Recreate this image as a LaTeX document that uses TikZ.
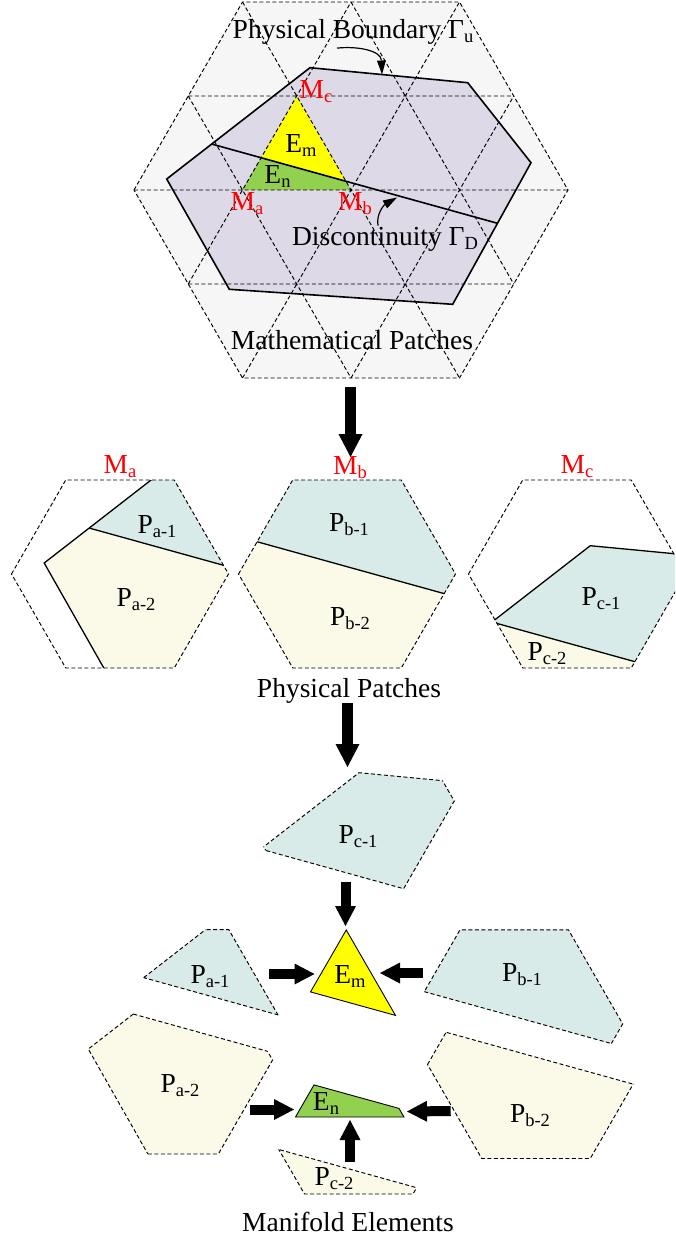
\documentclass[tikz,border=0pt]{standalone}
\usepackage{fontspec}
\setmainfont{Liberation Serif}
\usetikzlibrary{arrows.meta}
\definecolor{hexbg}{RGB}{246,246,246}
\definecolor{domaincol}{RGB}{222,217,230}
\definecolor{patchone}{RGB}{217,235,232}
\definecolor{patchtwo}{RGB}{251,250,232}
\definecolor{emcol}{RGB}{255,255,0}
\definecolor{encol}{RGB}{146,208,80}
\newcommand\lowsub[1]{\raisebox{-4pt}{\fontsize{18.5}{19}\selectfont #1}}
\newcommand\hexp[2]{(#1-108.5,#2) -- (#1-54.25,#2-94) -- (#1+54.25,#2-94) -- (#1+108.5,#2) -- (#1+54.25,#2+94) -- (#1-54.25,#2+94) -- cycle}
\newcommand\bighex{(134,190) -- (242.5,2) -- (459.5,2) -- (568,190) -- (459.5,378) -- (242.5,378) -- cycle}
\newcommand\regone{(211.7,144.05) -- (310,67.7) -- (467.7,82.7) -- (531,162.7) -- (497.5,223.3) -- cycle}
\newcommand\regtwo{(211.7,144.05) -- (497.5,223.3) -- (452.7,304.3) -- (229.3,289.3) -- (166.7,179) -- cycle}
\newcommand\bndpath{(310,67.7) -- (467.7,82.7) -- (531,162.7) -- (452.7,304.3) -- (229.3,289.3) -- (166.7,179) -- cycle}
\newcommand\discpath{(211.7,144.05) -- (497.5,223.3)}
\newcommand\empath{(296.75,96) -- (261,157.9) -- (346,181.4) -- cycle}
\newcommand\enpath{(261,157.9) -- (346,181.4) -- (351,190) -- (242.5,190) -- cycle}
\tikzset{
  dline/.style={dash pattern=on 4pt off 2.5pt, line width=0.95pt},
  bline/.style={line width=1.6pt, line join=miter},
  mline/.style={line width=1.3pt},
  lbl/.style={font=\fontsize{27.5}{30}\selectfont, inner sep=0pt, anchor=base},
  rlbl/.style={lbl, text=red},
  blk/.style={line width=10pt, -{Triangle[length=20pt,width=21pt,line width=0pt]}},
  bigblk/.style={line width=11pt, -{Triangle[length=23pt,width=24pt,line width=0pt]}},
  thinarr/.style={line width=1.2pt, -{Triangle[length=14pt,width=9pt,line width=0pt]}}
}
\newcommand\midpatch[3]{%
  \begin{scope}[shift={#1}]
    \begin{scope}
      \clip \hexp{#2}{#3};
      \fill[patchone] \regone;
      \fill[patchtwo] \regtwo;
      \draw[mline] \bndpath;
      \draw[mline] \discpath;
    \end{scope}
    \draw[dline] \hexp{#2}{#3};
  \end{scope}}
\newcommand\piece[5]{%
  \begin{scope}[shift={#1}]
    \begin{scope}
      \clip \hexp{#2}{#3};
      \fill[#5] #4;
      \draw[dline] #4;
    \end{scope}
    \begin{scope}
      \clip #4;
      \draw[dline] \hexp{#2}{#3};
    \end{scope}
  \end{scope}}
\begin{document}
\begin{tikzpicture}[x=1pt,y=-1pt]
\useasboundingbox (0,0) rectangle (675,1241);
\clip (0,0) rectangle (675,1241);
% ---------- mathematical patches ----------
\fill[hexbg] \bighex;
\fill[domaincol] \bndpath;
\fill[emcol] \empath;
\fill[encol] \enpath;
\draw[dline] \bighex;
\draw[dline] (188.25,96) -- (513.75,96) (134,190) -- (568,190) (188.25,284) -- (513.75,284)
  (188.25,284) -- (351,2) (242.5,378) -- (459.5,2) (351,378) -- (513.75,96)
  (188.25,96) -- (351,378) (242.5,2) -- (459.5,378) (351,2) -- (513.75,284);
\draw[bline] \bndpath;
\draw[bline] \discpath;
\node[lbl] (pbnd) at (353,39) {Physical Boundary Γ\lowsub{u}};
\node[lbl] (disc) at (385,246) {Discontinuity Γ\lowsub{D}};
\node[lbl] (mathp) at (352,349) {Mathematical Patches};
\node[rlbl] (mct) at (316,99) {M\lowsub{c}};
\node[rlbl] (mat) at (247,211) {M\lowsub{a}};
\node[rlbl] (mbt) at (355,211) {M\lowsub{b}};
\node[lbl] (emt) at (301,153) {E\lowsub{m}};
\node[lbl] (ent) at (277.5,184) {E\lowsub{n}};
\coordinate (bndtip) at (382,74.5);
\coordinate (disctip) at (397,197.5);
\draw[thinarr] ([xshift=-16pt,yshift=-3pt]pbnd.south) .. controls (356,46) and (381,50) .. (bndtip);
\draw[thinarr] ([xshift=-7pt,yshift=2pt]disc.north) .. controls (376,214) and (384,205) .. (disctip);
% ---------- physical patches ----------
\midpatch{(-122.5,384)}{242.5}{190}
\midpatch{(-4,384)}{351}{190}
\midpatch{(280.25,478)}{296.75}{96}
\node[rlbl] (mam) at (120,473) {M\lowsub{a}};
\node[rlbl] (mbm) at (350,474) {M\lowsub{b}};
\node[rlbl] (mcm) at (577,473) {M\lowsub{c}};
\node[lbl] (pa1m) at (157,533) {P\lowsub{a-1}};
\node[lbl] (pa2m) at (136,606.5) {P\lowsub{a-2}};
\node[lbl] (pb1m) at (349,531) {P\lowsub{b-1}};
\node[lbl] (pb2m) at (350,625) {P\lowsub{b-2}};
\node[lbl] (pc1m) at (601,605) {P\lowsub{c-1}};
\node[lbl] (pc2m) at (547,660) {P\lowsub{c-2}};
\node[lbl] (physp) at (349,697) {Physical Patches};
% ---------- manifold elements ----------
\piece{(-68,833.6)}{242.5}{190}{\regone}{patchone}
\piece{(-78.4,870)}{242.5}{190}{\regtwo}{patchtwo}
\piece{(163.2,833.9)}{351}{190}{\regone}{patchone}
\piece{(185,874.5)}{351}{190}{\regtwo}{patchtwo}
\piece{(49,705)}{296.75}{96}{\regone}{patchone}
\piece{(62,1004)}{296.75}{96}{\regtwo}{patchtwo}
\begin{scope}[shift={(49.5,834)}]
  \filldraw[fill=emcol, line width=0.9pt] \empath;
\end{scope}
\begin{scope}[shift={(53,927)}]
  \filldraw[fill=encol, line width=0.9pt] \enpath;
\end{scope}
\node[lbl] (pc1b) at (358,843.3) {P\lowsub{c-1}};
\node[lbl] (emb) at (350,983.3) {E\lowsub{m}};
\node[lbl] (pa1b) at (210,983) {P\lowsub{a-1}};
\node[lbl] (pb1b) at (522,981.7) {P\lowsub{b-1}};
\node[lbl] (pa2b) at (180,1092.7) {P\lowsub{a-2}};
\node[lbl] (enb) at (326,1110.7) {E\lowsub{n}};
\node[lbl] (pb2b) at (530,1122.7) {P\lowsub{b-2}};
\node[lbl] (pc2b) at (334,1185) {P\lowsub{c-2}};
\node[lbl] (manel) at (348,1231) {Manifold Elements};
% ---------- block arrows ----------
\coordinate (a1s) at (350.5,387);   \coordinate (a1e) at (350.5,457);
\coordinate (a2s) at (347.5,703);   \coordinate (a2e) at (347.5,767);
\coordinate (a3s) at (345.5,882);   \coordinate (a3e) at (345.5,926);
\coordinate (a4s) at (269,974);     \coordinate (a4e) at (314.5,974);
\coordinate (a5s) at (423,973);     \coordinate (a5e) at (380,973);
\coordinate (a6s) at (250,1109.5);  \coordinate (a6e) at (294,1109.5);
\coordinate (a7s) at (450.7,1111);  \coordinate (a7e) at (407,1111.5);
\coordinate (a8s) at (350,1162);    \coordinate (a8e) at (350,1120);
\draw[bigblk] (a1s) -- (a1e);
\draw[bigblk] (a2s) -- (a2e);
\draw[blk] (a3s) -- (a3e);
\draw[blk] (a4s) -- (a4e);
\draw[blk] (a5s) -- (a5e);
\draw[blk] (a6s) -- (a6e);
\draw[blk] (a7s) -- (a7e);
\draw[blk] (a8s) -- (a8e);
\end{tikzpicture}
\end{document}
